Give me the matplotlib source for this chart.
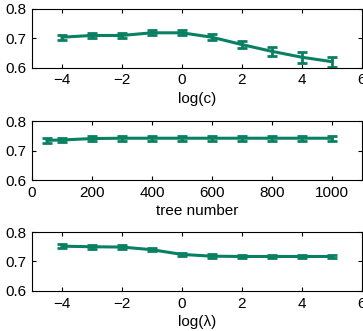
import matplotlib
matplotlib.use("Agg")
import matplotlib.pyplot as plt

plt.rcParams['font.family'] = ['Liberation Sans', 'DejaVu Sans']
plt.rcParams['font.size'] = 11

# log(c) sweep
c_x = [-4, -3, -2, -1, 0, 1, 2, 3, 4, 5]
c_y = [0.704, 0.710, 0.710, 0.719, 0.719, 0.704, 0.679, 0.656, 0.636, 0.621]
c_err = [0.009, 0.007, 0.007, 0.008, 0.008, 0.011, 0.013, 0.016, 0.018, 0.017]

# tree number sweep
tree_x = [50, 100, 200, 300, 400, 500, 600, 700, 800, 900, 1000]
tree_y = [0.735, 0.736, 0.741, 0.742, 0.742, 0.742, 0.742, 0.742, 0.742, 0.742, 0.742]
tree_err = [0.008, 0.008, 0.008, 0.008, 0.008, 0.008, 0.008, 0.008, 0.008, 0.008, 0.008]

# log(lambda) sweep
lam_x = [-4, -3, -2, -1, 0, 1, 2, 3, 4, 5]
lam_y = [0.752, 0.750, 0.749, 0.740, 0.724, 0.718, 0.717, 0.717, 0.717, 0.717]
lam_err = [0.006, 0.006, 0.006, 0.006, 0.006, 0.006, 0.006, 0.006, 0.006, 0.006]

color = '#0a8063'

fig = plt.figure(figsize=(3.63, 3.31), dpi=100)

panels = [
    (c_x, c_y, c_err, (-5, 6), [-4, -2, 0, 2, 4, 6], 'log(c)', 0.795),
    (tree_x, tree_y, tree_err, (0, 1100), [0, 200, 400, 600, 800, 1000], 'tree number', 0.456),
    (lam_x, lam_y, lam_err, (-5, 6), [-4, -2, 0, 2, 4, 6], 'log(λ)', 0.121),
]

for xs, ys, es, xlim, xticks, xlabel, bottom in panels:
    ax = fig.add_axes([0.088, bottom, 0.909, 0.178])
    ax.errorbar(xs, ys, yerr=es, color=color, lw=2.2, elinewidth=2,
                capsize=3.5, capthick=2)
    ax.set_xlim(*xlim)
    ax.set_ylim(0.6, 0.8)
    ax.set_xticks(xticks)
    ax.set_yticks([0.6, 0.7, 0.8])
    ax.set_xticklabels([str(t).replace('-', '\u2212') for t in xticks])
    ax.tick_params(direction='in', top=True, right=True, length=3, pad=4)
    ax.set_xlabel(xlabel, labelpad=3)

fig.savefig('out.png', dpi=100)
